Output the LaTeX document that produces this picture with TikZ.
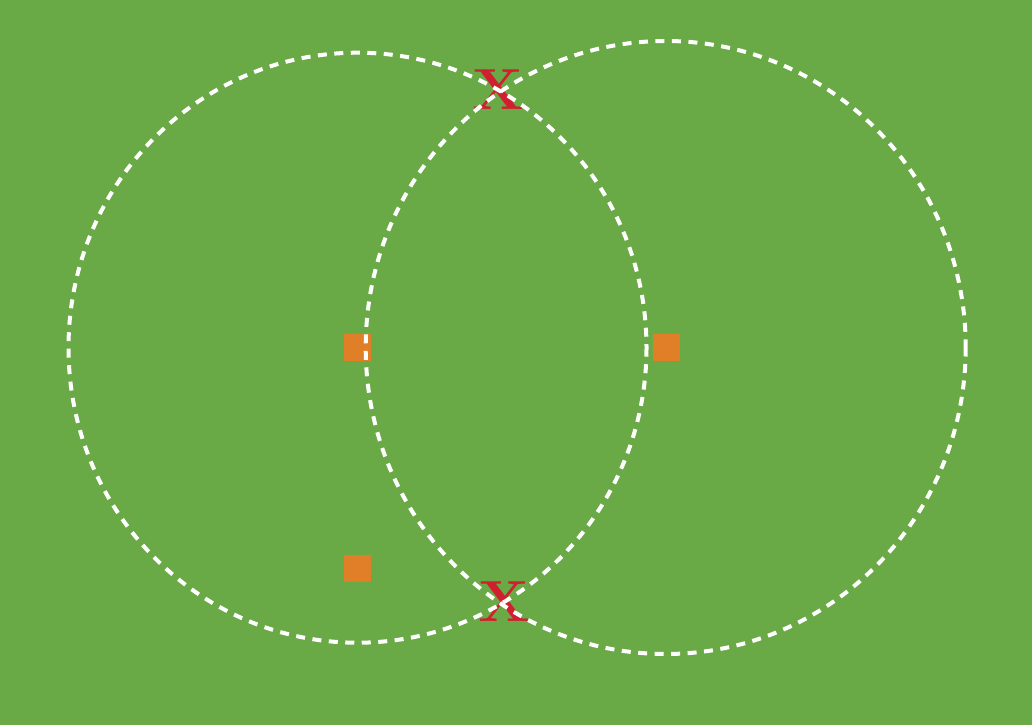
\documentclass[tikz,border=0pt]{standalone}
\definecolor{grass}{RGB}{106,170,70}
\definecolor{cone}{RGB}{224,127,40}
\definecolor{xred}{RGB}{208,32,48}
\tikzset{
  ring/.style={draw=white, line width=4pt, dash pattern=on 9pt off 7.5pt},
  cone/.style={fill=cone, minimum size=27pt, inner sep=0pt, draw=none, rectangle},
  xmark/.style={text=xred, font=\bfseries\fontsize{58}{58}\selectfont, inner sep=0pt, xscale=1.05}
}
\begin{document}
\begin{tikzpicture}[x=1pt,y=-1pt]
\fill[grass] (0,0) rectangle (1032,725);
\useasboundingbox (0,0) rectangle (1032,725);
\node[cone] (c1) at (357.5,347.5) {};
\node[cone] (c2) at (666,347.5) {};
\node[cone] (c3) at (357.5,568.5) {};
\node[xmark] (x1) at (498.5,90) {X};
\node[xmark] (x2) at (504,602) {X};
\draw[ring] (357.5,347.7) ellipse [x radius=289, y radius=295];
\draw[ring] (665.7,347.5) ellipse [x radius=300, y radius=306.5];
\end{tikzpicture}
\end{document}
